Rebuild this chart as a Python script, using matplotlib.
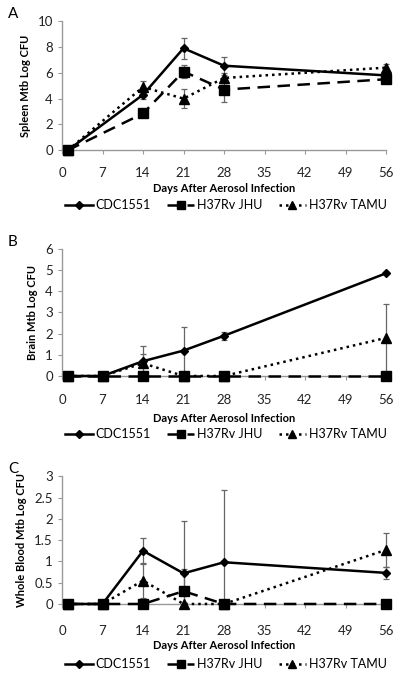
import matplotlib
matplotlib.use("Agg")
import matplotlib.pyplot as plt
from matplotlib.patches import Rectangle

plt.rcParams['font.family'] = ['Lato', 'DejaVu Sans']

series_names = ["CDC1551", "H37Rv JHU", "H37Rv TAMU"]

# Panel A - spleen (no day 7 sample)
spleen_days = [1, 14, 21, 28, 56]
spleen_cdc = [0, 4.3, 7.9, 6.55, 5.8]
spleen_cdc_err = [0, 0.3, 0.8, 0.7, 0.2]
spleen_jhu = [0, 2.85, 6.1, 4.7, 5.5]
spleen_jhu_err = [0, 0, 0.5, 1.0, 0.2]
spleen_tamu = [0, 4.9, 4.0, 5.6, 6.4]
spleen_tamu_err = [0, 0.5, 0.75, 0.4, 0.3]

# Panel B - brain
brain_days = [1, 7, 14, 21, 28, 56]
brain_cdc = [0, 0, 0.7, 1.2, 1.9, 4.85]
brain_cdc_err = [0, 0, 0.7, 1.1, 0.2, 0.05]
brain_jhu = [0, 0, 0, 0, 0, 0]
brain_jhu_err = [0, 0, 0, 0, 0, 0]
brain_tamu = [0, 0, 0.6, 0, 0, 1.8]
brain_tamu_err = [0, 0, 0.45, 0, 0, 1.6]

# Panel C - whole blood
blood_days = [1, 7, 14, 21, 28, 56]
blood_cdc = [0, 0, 1.25, 0.72, 0.98, 0.73]
blood_cdc_err = [0, 0, 0.3, 1.23, 1.7, 0.15]
blood_jhu = [0, 0, 0, 0.3, 0, 0]
blood_jhu_err = [0, 0, 0, 0.52, 0, 0]
blood_tamu = [0, 0, 0.55, 0, 0, 1.27]
blood_tamu_err = [0, 0, 0.42, 0, 0, 0.4]

xticks = [0, 7, 14, 21, 28, 35, 42, 49, 56]

fig = plt.figure(figsize=(4.0, 6.83), dpi=100)

styles = [
    dict(marker='D', ms=4.5, ls='-', lw=1.8),
    dict(marker='s', ms=6.5, ls=(0, (5, 3)), lw=1.8),
    dict(marker='^', ms=6.5, ls=(0, (1, 1.6)), lw=1.8),
]


def draw_panel(rect, days, vals, errs, ymax, ystep, ylabel, letter, leg_y, tick_pad, xlab_pad, yfmt):
    ax = fig.add_axes(rect)
    # clip error bars only at the bottom (y=0), let them pass the right edge
    clip = Rectangle((-0.1, 0), 1.2, 1.5, transform=ax.transAxes, visible=False)
    ax.add_patch(clip)
    for name, v, e, st in zip(series_names, vals, errs, styles):
        ex = [d for d, s in zip(days, e) if s > 0]
        ey = [y for y, s in zip(v, e) if s > 0]
        es = [s for s in e if s > 0]
        if ex:
            eb = ax.errorbar(ex, ey, yerr=es, fmt='none', ecolor='#666666', elinewidth=0.9,
                             capsize=2.2, capthick=0.9, zorder=2)
            for art in eb.lines[1] + eb.lines[2]:
                art.set_clip_path(clip)
        ax.plot(days, v, color='black', label=name, clip_on=False, zorder=3, **st)
    ax.set_xlim(0, 56)
    ax.set_ylim(0, ymax)
    ax.set_xticks(xticks)
    ticks = [i * ystep for i in range(int(round(ymax / ystep)) + 1)]
    ax.set_yticks(ticks)
    ax.set_yticklabels([yfmt(t) for t in ticks])
    for s in ['top', 'right']:
        ax.spines[s].set_visible(False)
    for s in ['left', 'bottom']:
        ax.spines[s].set_color('#999999')
        ax.spines[s].set_linewidth(1.0)
    ax.spines['bottom'].set_zorder(1)
    ax.tick_params(axis='both', colors='#999999', labelcolor='#222222', labelsize=9.5,
                   length=3, width=0.8)
    ax.tick_params(axis='x', pad=tick_pad)
    ax.set_xlabel("Days After Aerosol Infection", fontsize=8, fontweight='bold', labelpad=xlab_pad)
    ax.set_ylabel(ylabel, fontsize=8, fontweight='bold', labelpad=5)
    fig.text(0.02, rect[1] + rect[3] + 0.01, letter, fontsize=11, ha='left', va='center')
    ax.legend(loc='center', bbox_to_anchor=(0.565, leg_y), bbox_transform=fig.transFigure,
              ncol=3, frameon=False, fontsize=9, handlelength=2.2, columnspacing=1.3,
              handletextpad=0.2, borderaxespad=0, markerscale=0.85)
    return ax


draw_panel([0.155, 0.780, 0.81, 0.189], spleen_days,
           [spleen_cdc, spleen_jhu, spleen_tamu],
           [spleen_cdc_err, spleen_jhu_err, spleen_tamu_err],
           10, 2, "Spleen Mtb Log CFU", "A", 1 - 205 / 683, 9, 3,
           lambda t: f"{int(t)}")

draw_panel([0.155, 0.4495, 0.81, 0.186], brain_days,
           [brain_cdc, brain_jhu, brain_tamu],
           [brain_cdc_err, brain_jhu_err, brain_tamu_err],
           6, 1, "Brain Mtb Log CFU", "B", 1 - 434 / 683, 10, 5,
           lambda t: f"{int(t)}")

draw_panel([0.155, 0.1157, 0.81, 0.187], blood_days,
           [blood_cdc, blood_jhu, blood_tamu],
           [blood_cdc_err, blood_jhu_err, blood_tamu_err],
           3, 0.5, "Whole Blood Mtb Log CFU", "C", 1 - 664 / 683, 12, 2,
           lambda t: f"{t:g}")

fig.savefig("out.png", dpi=100)
